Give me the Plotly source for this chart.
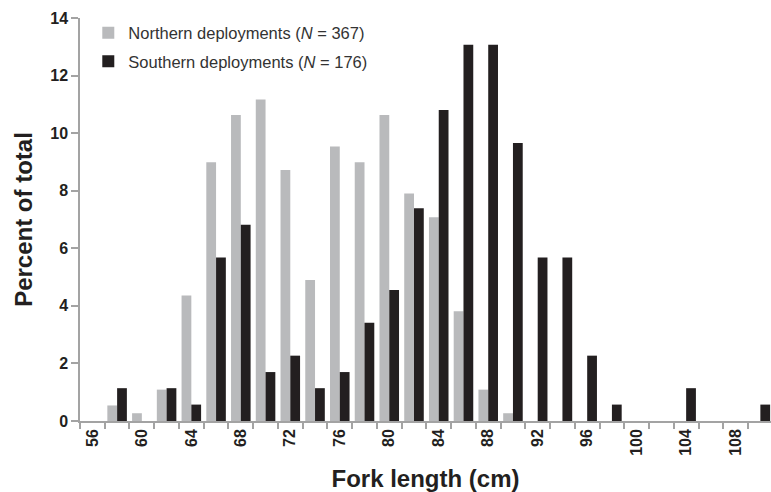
import plotly.graph_objects as go

fork_length = [56, 58, 60, 62, 64, 66, 68, 70, 72, 74, 76, 78, 80, 82,
               84, 86, 88, 90, 92, 94, 96, 98, 100, 102, 104, 106, 108, 110]
northern_pct = [0, 0.54, 0.27, 1.09, 4.36, 8.99, 10.63, 11.17, 8.72, 4.90,
                9.54, 8.99, 10.63, 7.90, 7.08, 3.81, 1.09, 0.27, 0, 0,
                0, 0, 0, 0, 0, 0, 0, 0]
southern_pct = [0, 1.14, 0, 1.14, 0.57, 5.68, 6.82, 1.70, 2.27, 1.14,
                1.70, 3.41, 4.55, 7.39, 10.80, 13.07, 13.07, 9.66, 5.68, 5.68,
                2.27, 0.57, 0, 0, 1.14, 0, 0, 0.57]
tick_labels = [56, 60, 64, 68, 72, 76, 80, 84, 88, 92, 96, 100, 104, 108]
y_ticks = [0, 2, 4, 6, 8, 10, 12, 14]

FONT = "Liberation Sans, Arial, sans-serif"
AX = "#a3a3a3"

fig = go.Figure()
fig.add_trace(go.Bar(x=fork_length, y=northern_pct,
                     name="Northern deployments (<i>N</i> = 367)",
                     marker=dict(color="#b9babc", line=dict(width=0)),
                     legendgroup="n"))
fig.add_trace(go.Bar(x=fork_length, y=southern_pct,
                     name="Southern deployments (<i>N</i> = 176)",
                     marker=dict(color="#231f20", line=dict(width=0)),
                     legendgroup="s"))

fig.update_layout(
    width=771, height=492,
    margin=dict(l=80, r=0, t=18, b=71),
    paper_bgcolor="white", plot_bgcolor="white",
    barmode="group", bargap=0.21, bargroupgap=0,
    font=dict(family=FONT, color="#231f20"),
    showlegend=True,
    legend=dict(x=0.012, y=1.006, xanchor="left", yanchor="top",
                bgcolor="rgba(0,0,0,0)", font=dict(size=16.5, color="#333"),
                traceorder="grouped", tracegroupgap=4, itemwidth=30),
    xaxis=dict(
        range=[55, 110.86],
        tickmode="array", tickvals=tick_labels,
        ticktext=[str(t) for t in tick_labels],
        tickangle=-90, ticks="",
        tickfont=dict(size=16, family=FONT, color="#231f20", weight="bold"),
        showline=True, linecolor=AX, linewidth=1.5,
        showgrid=False, zeroline=False,
        minor=dict(ticks="outside", tick0=55, dtick=2, ticklen=6,
                   tickcolor=AX, tickwidth=1.5, showgrid=False),
        title=dict(text="<b>Fork length (cm)</b>", font=dict(size=24, family=FONT),
                   standoff=17),
    ),
    yaxis=dict(
        range=[0, 14], tickvals=y_ticks,
        ticks="outside", ticklen=7, tickcolor=AX, tickwidth=1.5,
        tickfont=dict(size=16, family=FONT, color="#231f20", weight="bold"),
        showline=True, linecolor=AX, linewidth=1.5,
        showgrid=False, zeroline=False,
        title=dict(text="<b>Percent of total</b>", font=dict(size=24, family=FONT),
                   standoff=11),
    ),
)

fig.write_html("out.html")
